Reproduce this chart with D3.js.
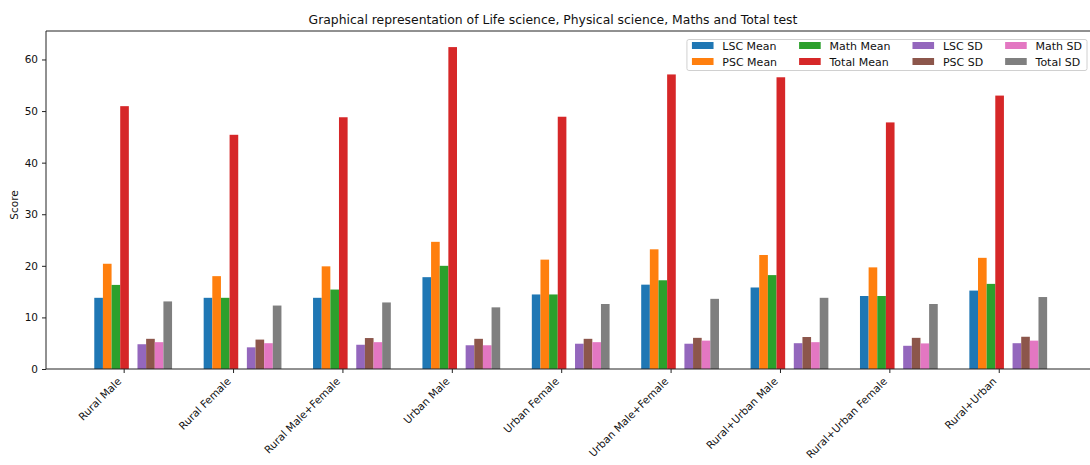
<!DOCTYPE html>
<html>
<head>
<meta charset="utf-8">
<script src="https://cdn.jsdelivr.net/npm/d3@7"></script>
<style>
  html, body { margin: 0; padding: 0; background: #fff; }
  svg { display: block; font-family: "DejaVu Sans", sans-serif; }
</style>
</head>
<body>
<svg id="chart" width="1090" height="465"></svg>
<script>
// Groups along the x axis
const categories = [
  "Rural Male", "Rural Female", "Rural Male+Female",
  "Urban Male", "Urban Female", "Urban Male+Female",
  "Rural+Urban Male", "Rural+Urban Female", "Rural+Urban"
];

// Mean scores per group
const lscMean   = [13.8, 13.8, 13.8, 17.8, 14.45, 16.35, 15.8, 14.15, 15.2];
const pscMean   = [20.4, 18.0, 19.9, 24.65, 21.2, 23.2, 22.1, 19.7, 21.55];
const mathMean  = [16.3, 13.8, 15.4, 20.0, 14.45, 17.2, 18.2, 14.15, 16.5];
const totalMean = [50.95, 45.4, 48.8, 62.4, 48.9, 57.1, 56.55, 47.8, 53.0];

// Standard deviations per group
const lscSD   = [4.8, 4.2, 4.7, 4.6, 4.9, 4.9, 5.0, 4.5, 5.0];
const pscSD   = [5.85, 5.7, 6.0, 5.85, 5.85, 6.04, 6.2, 6.04, 6.25];
const mathSD  = [5.2, 5.0, 5.2, 4.6, 5.2, 5.5, 5.2, 4.96, 5.5];
const totalSD = [13.1, 12.3, 12.9, 11.95, 12.6, 13.6, 13.8, 12.6, 13.95];

const yTicks = [0, 10, 20, 30, 40, 50, 60];

const seriesNames = ["LSC Mean", "PSC Mean", "Math Mean", "Total Mean",
                     "LSC SD", "PSC SD", "Math SD", "Total SD"];
const seriesValues = [lscMean, pscMean, mathMean, totalMean,
                      lscSD, pscSD, mathSD, totalSD];
const colors = ["#1f77b4", "#ff7f0e", "#2ca02c", "#d62728",
                "#9467bd", "#8c564b", "#e377c2", "#7f7f7f"];
// slot of each series within a group (slot 4 left empty between means and SDs)
const slots = [0, 1, 2, 3, 5, 6, 7, 8];

const svg = d3.select("#chart");
const plot = { left: 46, right: 1095, top: 31, bottom: 369 };
const barW = 0.079;       // bar width in category units
const slotShift = 3.4;    // offset of the group's tick from the first slot

const x = d3.scaleLinear()
  .domain([-0.71, categories.length - 1 + 0.88])
  .range([plot.left, plot.right]);

const maxVal = d3.max(seriesValues.flat());
const y = d3.scaleLinear()
  .domain([0, maxVal * 1.05])
  .range([plot.bottom, plot.top]);

svg.append("rect").attr("width", 1090).attr("height", 465).attr("fill", "#fff");

// Bars
const rows = [];
seriesValues.forEach((vals, s) => {
  vals.forEach((v, i) => rows.push({ s, i, v }));
});
svg.append("g").selectAll("rect")
  .data(rows)
  .join("rect")
  .attr("x", d => x(d.i + (slots[d.s] - slotShift) * barW))
  .attr("width", d => x(barW) - x(0))
  .attr("y", d => y(d.v))
  .attr("height", d => y(0) - y(d.v))
  .attr("fill", d => colors[d.s]);

// Y axis
const yAxis = svg.append("g")
  .attr("transform", `translate(${plot.left},0)`)
  .call(d3.axisLeft(y).tickValues(yTicks).tickSize(4).tickPadding(4));
yAxis.select(".domain").remove();
yAxis.selectAll("text").attr("font-size", "10.5px").attr("fill", "#111")
  .attr("font-family", "DejaVu Sans");
yAxis.selectAll("line").attr("stroke", "#222");

// X axis
const xAxis = svg.append("g")
  .attr("transform", `translate(0,${plot.bottom})`)
  .call(d3.axisBottom(x).tickValues(d3.range(categories.length))
    .tickFormat(i => categories[i]).tickSize(4));
xAxis.select(".domain").remove();
xAxis.selectAll("line").attr("stroke", "#222");
xAxis.selectAll("text")
  .attr("font-size", "10.5px").attr("fill", "#111")
  .attr("font-family", "DejaVu Sans")
  .attr("text-anchor", "end")
  .attr("dy", null)
  .attr("y", null)
  .attr("transform", "translate(-2,13) rotate(-45)");

// Axes frame (left, top, bottom spines)
svg.append("path")
  .attr("d", `M${plot.left},${plot.bottom}V${plot.top}H${plot.right}M${plot.left},${plot.bottom}H${plot.right}`)
  .attr("fill", "none").attr("stroke", "#222").attr("stroke-width", 1);

// Y label
svg.append("text")
  .attr("transform", `translate(18,205) rotate(-90)`)
  .attr("text-anchor", "middle")
  .attr("font-size", "10.5px").attr("fill", "#111")
  .text("Score");

// Title
svg.append("text")
  .attr("x", 553).attr("y", 23.5)
  .attr("text-anchor", "middle")
  .attr("font-size", "12.4px").attr("fill", "#111")
  .text("Graphical representation of Life science, Physical science, Maths and Total test");

// Legend: 4 columns x 2 rows, column-major order
const fs = 11;
const legend = svg.append("g");
const legRight = 1087, legTop = 39.5, legH = 31;
const pad = 5, handleW = 21.6, handleH = 7, textPad = 8.8, colGap = 22;
const nCols = 4;
const cols = d3.range(nCols).map(c => [c * 2, c * 2 + 1]);

// measure label widths
const tmp = svg.append("text").attr("font-size", fs + "px");
const widths = seriesNames.map(n => { tmp.text(n); return tmp.node().getComputedTextLength(); });
tmp.remove();
const colW = cols.map(c => handleW + textPad + d3.max(c, k => widths[k]));
const legW = pad * 2 + d3.sum(colW) + colGap * (nCols - 1);
const legLeft = legRight - legW;

legend.append("rect")
  .attr("x", legLeft).attr("y", legTop)
  .attr("width", legW).attr("height", legH)
  .attr("rx", 2).attr("fill", "#fff").attr("fill-opacity", 0.8)
  .attr("stroke", "#d0d0d0").attr("stroke-width", 1);

let cx = legLeft + pad;
cols.forEach((c, ci) => {
  c.forEach((k, r) => {
    const cy = legTop + 6 + r * 16;
    legend.append("rect")
      .attr("x", cx).attr("y", cy - handleH / 2)
      .attr("width", handleW).attr("height", handleH)
      .attr("fill", colors[k]);
    legend.append("text")
      .attr("x", cx + handleW + textPad).attr("y", cy + 4)
      .attr("font-size", fs + "px").attr("fill", "#111")
      .text(seriesNames[k]);
  });
  cx += colW[ci] + colGap;
});
</script>
</body>
</html>
